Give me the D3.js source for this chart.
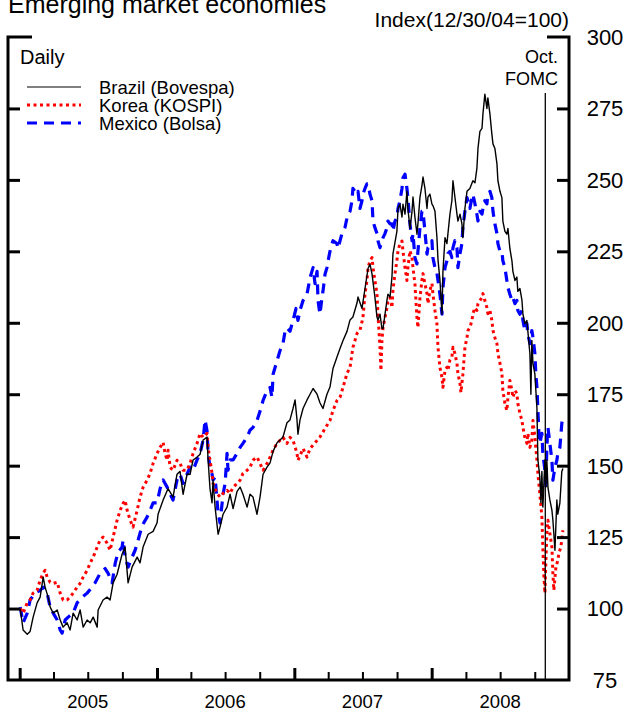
<!DOCTYPE html>
<html>
<head>
<meta charset="utf-8">
<script src="https://cdn.jsdelivr.net/npm/d3@7"></script>
<style>
	body { margin: 0; background: #fff; }
	svg { display: block; font-family: "Liberation Sans", Arial, sans-serif; }
</style>
</head>
<body>
<svg id="chart"></svg>
<script>
// Each point: [years since 1 Jan 2005, index level (12/30/04 = 100)]
const brazil = [[0.004,100],[0.025,92.5],[0.055,91],[0.076,92],[0.098,97],[0.127,102],[0.149,104],[0.171,111],[0.185,107.5],[0.207,104],[0.222,100.5],[0.244,98.4],[0.273,99.5],[0.295,96],[0.316,93.5],[0.345,95],[0.367,92.5],[0.389,98.4],[0.418,96],[0.44,99.5],[0.462,93.5],[0.491,96],[0.513,95],[0.535,97],[0.564,93.5],[0.571,99.5],[0.607,103],[0.636,104],[0.658,103],[0.68,109],[0.709,112],[0.745,119],[0.767,121.5],[0.789,109],[0.818,114.5],[0.855,118],[0.876,116],[0.898,121.5],[0.935,126],[0.971,127],[1.0,130],[1.007,133],[1.044,138],[1.08,142],[1.116,139],[1.145,147],[1.167,148],[1.189,140],[1.218,147],[1.24,147],[1.262,152],[1.291,153],[1.313,154],[1.335,159],[1.364,160],[1.371,152],[1.385,142],[1.4,137],[1.407,145],[1.422,135.5],[1.444,126],[1.458,128.5],[1.48,133],[1.509,135.5],[1.531,140],[1.553,135],[1.582,141],[1.604,142.5],[1.625,140],[1.655,135.5],[1.676,140],[1.698,139],[1.727,133],[1.749,139],[1.771,147],[1.8,149.5],[1.822,151],[1.844,155],[1.873,158],[1.895,159],[1.916,160],[1.945,165],[1.967,166],[1.989,170],[2.004,173],[2.018,166],[2.025,161],[2.04,166],[2.062,170],[2.091,173],[2.113,175],[2.135,177],[2.164,175],[2.185,172],[2.207,170],[2.236,175],[2.258,177.5],[2.28,184],[2.309,188],[2.331,191],[2.353,193.8],[2.382,197],[2.404,201],[2.425,202],[2.455,207],[2.462,209],[2.491,205],[2.513,212],[2.535,219],[2.549,220.5],[2.564,217],[2.585,209],[2.6,202],[2.607,201],[2.622,203],[2.636,198],[2.644,198],[2.673,208],[2.68,210],[2.695,209],[2.709,216],[2.716,224],[2.745,232],[2.753,240],[2.767,241.5],[2.782,237],[2.789,241.5],[2.804,238],[2.818,246],[2.825,240],[2.84,233],[2.855,239],[2.862,244],[2.876,237],[2.891,231],[2.898,234.7],[2.913,244],[2.927,248],[2.935,251],[2.949,247],[2.964,240],[2.971,244],[2.985,245],[3.0,241.5],[3.007,241],[3.022,239],[3.036,230],[3.044,222],[3.058,215],[3.073,203],[3.08,218],[3.095,229.8],[3.109,227.7],[3.116,231],[3.131,238],[3.145,242.7],[3.153,249.7],[3.167,244],[3.182,238],[3.189,235.6],[3.204,238],[3.218,234.7],[3.225,229.8],[3.24,240],[3.255,246],[3.276,247],[3.298,249.7],[3.313,249],[3.327,254],[3.335,261],[3.349,267],[3.364,268],[3.371,273],[3.385,280],[3.4,275],[3.407,278.7],[3.422,273],[3.436,266],[3.444,262.6],[3.458,261],[3.473,255.6],[3.48,249.7],[3.495,246],[3.509,243.8],[3.516,235.6],[3.531,232],[3.545,231],[3.553,233],[3.567,226],[3.582,221.7],[3.589,218],[3.604,214.8],[3.618,216],[3.625,211],[3.64,212],[3.655,207.8],[3.662,203],[3.676,199.7],[3.691,200.8],[3.698,197],[3.713,189],[3.72,175],[3.727,193.8],[3.735,185.8],[3.749,182],[3.764,170],[3.771,152],[3.785,146],[3.793,137],[3.8,148],[3.807,135.5],[3.822,152],[3.829,142.5],[3.836,152],[3.844,142.5],[3.858,138],[3.873,134.4],[3.88,131],[3.895,120.4],[3.909,138],[3.916,133],[3.931,137],[3.945,148],[3.953,149]];

const korea = [[0.004,100],[0.025,98.4],[0.055,102],[0.076,103],[0.098,105.4],[0.127,106.4],[0.149,110],[0.171,112.4],[0.185,113.4],[0.2,111],[0.222,109.2],[0.244,108.8],[0.273,109.2],[0.295,105.4],[0.316,103],[0.345,103],[0.367,104],[0.389,105.4],[0.418,107.5],[0.44,108.8],[0.462,111],[0.491,113.4],[0.513,115.9],[0.535,118],[0.564,121.5],[0.585,124],[0.607,125],[0.636,122.9],[0.658,120.4],[0.68,125],[0.709,130.9],[0.731,134.4],[0.753,136.8],[0.767,137.9],[0.782,134.4],[0.804,130.9],[0.825,128.5],[0.855,134.4],[0.876,139],[0.898,142.4],[0.927,144.9],[0.949,147.3],[0.971,150.8],[1.0,154.3],[1.022,156.4],[1.044,158.2],[1.058,154.3],[1.073,151.9],[1.08,155.4],[1.095,149.4],[1.116,148.4],[1.145,151.9],[1.167,150.8],[1.189,148.4],[1.218,148.4],[1.24,150.8],[1.262,154.3],[1.291,157.8],[1.313,161.3],[1.335,159.9],[1.364,161.3],[1.371,156.4],[1.385,151.9],[1.4,147.3],[1.407,143.8],[1.436,140.3],[1.458,139],[1.48,140.3],[1.509,141.4],[1.531,140.3],[1.553,142.4],[1.582,143.8],[1.604,144.9],[1.625,147.3],[1.655,148.4],[1.676,149.4],[1.698,151.9],[1.727,153],[1.749,150.8],[1.771,148.4],[1.8,150.8],[1.822,153],[1.844,155.4],[1.873,157.8],[1.895,158.9],[1.916,159.9],[1.945,157.8],[1.967,159.9],[1.989,158.9],[2.018,154.3],[2.025,151.9],[2.062,156],[2.091,153],[2.113,156],[2.149,158],[2.185,160],[2.222,163],[2.258,165.8],[2.28,169.3],[2.309,172.8],[2.331,173.9],[2.353,177.4],[2.382,182.3],[2.404,184.4],[2.425,191.4],[2.455,196.3],[2.476,197.3],[2.498,201.8],[2.513,210.2],[2.527,214.8],[2.535,219.3],[2.549,221.7],[2.564,222.8],[2.571,219.3],[2.585,214.8],[2.6,210.2],[2.607,203.2],[2.622,191.4],[2.629,183.3],[2.636,193.8],[2.644,198.3],[2.658,201.8],[2.673,205.3],[2.68,207.8],[2.695,208.8],[2.709,205.3],[2.716,211.3],[2.731,217.2],[2.745,221.7],[2.753,225.2],[2.767,227.7],[2.782,228.6],[2.789,225.2],[2.804,219.3],[2.818,214.8],[2.825,219.3],[2.84,225.2],[2.855,222.8],[2.862,219.3],[2.876,213.7],[2.891,201.8],[2.898,198.3],[2.913,208.8],[2.927,214.8],[2.935,217.2],[2.949,213.7],[2.964,210.2],[2.971,206.7],[2.985,211.3],[3.0,213.7],[3.007,210.2],[3.022,204.3],[3.036,199.7],[3.044,191.4],[3.058,184.4],[3.073,180.9],[3.08,177.4],[3.095,183.3],[3.109,184.4],[3.116,183.3],[3.131,187],[3.145,188],[3.153,191.4],[3.167,189.3],[3.182,185.8],[3.189,182.3],[3.204,178.8],[3.211,175.6],[3.225,182],[3.24,191.4],[3.255,194.8],[3.262,197.3],[3.276,198.3],[3.291,200.8],[3.298,203.2],[3.313,205.3],[3.327,204.3],[3.335,206.7],[3.349,207.8],[3.364,208.8],[3.371,210.2],[3.385,207.8],[3.4,205.3],[3.407,203.2],[3.422,204.3],[3.436,200.8],[3.444,197.3],[3.458,194.8],[3.473,192.7],[3.48,189.3],[3.495,185.8],[3.509,182.3],[3.516,176.3],[3.531,171.8],[3.545,169.3],[3.553,173.9],[3.567,179.8],[3.582,176.3],[3.589,173.9],[3.604,176.3],[3.618,175.3],[3.625,171.8],[3.64,168.3],[3.655,165.8],[3.662,163.4],[3.676,159.9],[3.691,157.8],[3.698,161.3],[3.713,156.4],[3.727,158.9],[3.735,165.8],[3.749,159.9],[3.764,151.9],[3.771,147.3],[3.785,140.3],[3.8,132],[3.807,121.5],[3.815,111],[3.822,105.4],[3.829,116.9],[3.836,126.3],[3.844,130.9],[3.858,126.3],[3.873,121.5],[3.88,112.4],[3.887,106.4],[3.902,114.5],[3.916,116.9],[3.924,119.4],[3.938,121.5],[3.953,127.4]];

const mexico = [[0.004,100.5],[0.025,95],[0.055,98.4],[0.076,103],[0.113,105.4],[0.149,106.4],[0.171,107.5],[0.2,105.4],[0.222,100.5],[0.244,98.4],[0.273,96],[0.295,92.5],[0.309,91.4],[0.331,96],[0.353,97],[0.389,98.4],[0.418,102],[0.455,104],[0.491,105.4],[0.527,107.5],[0.549,109],[0.585,112.3],[0.622,114],[0.644,112.3],[0.673,109],[0.695,115.8],[0.716,119.7],[0.745,121.5],[0.753,124],[0.767,118],[0.789,114.5],[0.818,118],[0.84,120.4],[0.862,124],[0.891,129],[0.927,132],[0.949,134.4],[0.971,137],[1.0,137],[1.022,142],[1.044,145],[1.073,142.5],[1.095,140],[1.116,138],[1.145,145],[1.167,147],[1.189,143.8],[1.218,147],[1.24,149.5],[1.262,148.4],[1.291,152],[1.313,154.3],[1.335,159],[1.349,166],[1.364,162],[1.371,154.3],[1.385,149.5],[1.4,147],[1.407,145],[1.422,146],[1.436,138],[1.444,133.3],[1.458,130],[1.473,136.8],[1.48,140],[1.495,143.8],[1.509,154.3],[1.516,148.4],[1.531,152],[1.553,152],[1.582,154.3],[1.604,156.4],[1.625,157.8],[1.655,160],[1.676,162.4],[1.698,163.4],[1.727,165.8],[1.749,169],[1.771,172.8],[1.8,176.3],[1.822,177.4],[1.836,173.9],[1.844,182],[1.873,186.8],[1.895,190.3],[1.916,192.7],[1.931,197],[1.945,198.3],[1.967,197],[1.989,200.8],[2.011,205],[2.025,200.8],[2.04,204.3],[2.062,207.8],[2.091,210],[2.113,215.8],[2.135,219.3],[2.149,213.7],[2.164,218],[2.171,207.8],[2.185,203],[2.2,208.8],[2.207,211],[2.222,217],[2.236,219.3],[2.244,221.6],[2.258,225],[2.273,227.7],[2.28,228.7],[2.309,227.7],[2.316,226],[2.331,228.7],[2.345,231.2],[2.353,232],[2.367,233.3],[2.382,236.7],[2.389,238],[2.404,239],[2.418,242.7],[2.425,247],[2.44,246],[2.455,245],[2.462,246],[2.476,240],[2.491,242.7],[2.498,245],[2.513,247],[2.527,248.6],[2.535,248.6],[2.549,245],[2.564,242.7],[2.571,235.6],[2.585,233.3],[2.6,231.2],[2.607,228.7],[2.622,226.3],[2.636,228.7],[2.644,229.8],[2.658,231.2],[2.673,233.3],[2.68,235.6],[2.695,234.6],[2.709,234.6],[2.716,232],[2.731,235.6],[2.745,236.7],[2.753,240],[2.767,242.7],[2.782,247],[2.789,250.7],[2.804,252],[2.818,247],[2.825,243.8],[2.84,234.6],[2.855,228.7],[2.862,231.2],[2.876,222.8],[2.891,220.6],[2.898,225],[2.913,233.3],[2.927,239],[2.935,239],[2.949,232],[2.964,224],[2.971,226.3],[2.985,227],[3.0,228.7],[3.007,222.8],[3.022,219.3],[3.036,217.5],[3.044,214.8],[3.058,210],[3.073,203],[3.08,212.3],[3.095,219.3],[3.109,221.7],[3.116,224.2],[3.131,225],[3.145,222.8],[3.153,226.3],[3.167,228.7],[3.182,226.3],[3.189,219.3],[3.204,224.2],[3.218,227.7],[3.225,233.3],[3.24,239],[3.255,243.8],[3.262,242.7],[3.276,240],[3.291,243.8],[3.298,245],[3.313,241.6],[3.327,238],[3.335,235.6],[3.349,239],[3.364,238],[3.371,240],[3.385,242.7],[3.4,241.6],[3.407,245],[3.422,246],[3.436,243.8],[3.444,239],[3.458,234.6],[3.473,231.2],[3.48,227.7],[3.495,225],[3.509,225],[3.516,221.7],[3.531,219.3],[3.545,214.8],[3.553,212.3],[3.567,210],[3.582,207.8],[3.589,208.8],[3.604,206.7],[3.618,207.8],[3.625,204.3],[3.64,203],[3.655,204.3],[3.662,200.8],[3.676,197.3],[3.691,199.7],[3.698,196],[3.713,192.7],[3.727,197.3],[3.735,194.9],[3.749,189.3],[3.756,182],[3.764,177.4],[3.771,169.3],[3.778,161.3],[3.785,157.8],[3.8,161.3],[3.807,154.3],[3.822,148.4],[3.829,143],[3.836,156.4],[3.844,163.4],[3.858,157.8],[3.873,151.9],[3.88,144.9],[3.895,149.4],[3.909,151.9],[3.916,154.3],[3.931,156.4],[3.945,164.8],[3.953,167]];

const yTicks = [75, 100, 125, 150, 175, 200, 225, 250, 275, 300];
const yearLabels = ['2005', '2006', '2007', '2008'];
const fomcDate = '2008-10-29';

const series = [
	{ name: 'Brazil (Bovespa)', data: brazil, color: '#000', width: 1.4, dash: null },
	{ name: 'Korea (KOSPI)', data: korea, color: '#ff0000', width: 3, dash: '3,3.5' },
	{ name: 'Mexico (Bolsa)', data: mexico, color: '#0000ff', width: 3.2, dash: '10,7' },
];

const config = {
	width: 627,
	height: 712,
	left: 8,
	right: 569,
	top: 37,
	bottom: 680,
};

const dayMs = 864e5;
const base = Date.UTC(2005, 0, 1);
const toDate = (t) => new Date(base + t * 365.25 * dayMs);

const svg = d3
	.select('#chart')
	.attr('width', config.width)
	.attr('height', config.height);

const x = d3
	.scaleUtc()
	.domain([new Date(Date.UTC(2004, 11, 1)), new Date(Date.UTC(2008, 11, 31))])
	.range([config.left, config.right]);

const y = d3
	.scaleLinear()
	.domain([75, 300])
	.range([config.bottom, config.top]);

// Lines
const line = d3
	.line()
	.x((d) => x(toDate(d[0])))
	.y((d) => y(d[1]));

svg.append('g')
	.selectAll('path')
	.data(series.slice().reverse())
	.join('path')
	.attr('d', (d) => line(d.data))
	.attr('fill', 'none')
	.attr('stroke', (d) => d.color)
	.attr('stroke-width', (d) => d.width)
	.attr('stroke-dasharray', (d) => d.dash)
	.attr('stroke-linejoin', 'round');

// FOMC marker
const fx = x(new Date(fomcDate + 'T00:00:00Z'));
svg.append('line')
	.attr('x1', fx)
	.attr('x2', fx)
	.attr('y1', 93)
	.attr('y2', config.bottom)
	.attr('stroke', '#000')
	.attr('stroke-width', 1.3);

svg.append('text')
	.attr('x', 558)
	.attr('y', 63)
	.attr('text-anchor', 'end')
	.style('font-size', '18px')
	.text('Oct.');

svg.append('text')
	.attr('x', 558)
	.attr('y', 85)
	.attr('text-anchor', 'end')
	.style('font-size', '18px')
	.text('FOMC');

// Axes: left, right, bottom
const axisStyle = (g) => {
	g.select('.domain').remove();
	g.selectAll('line').attr('stroke', '#000').attr('stroke-width', 3);
	g.selectAll('text').remove();
};

const innerTicks = yTicks.filter((v) => v > 75 && v < 300);

svg.append('g')
	.attr('transform', `translate(${config.left},0)`)
	.call(d3.axisRight(y).tickValues(innerTicks).tickSize(12))
	.call(axisStyle);

svg.append('g')
	.attr('transform', `translate(${config.right},0)`)
	.call(d3.axisLeft(y).tickValues(innerTicks).tickSize(12))
	.call(axisStyle);

const years = d3.utcYear.range(new Date(Date.UTC(2005, 0, 1)), new Date(Date.UTC(2009, 0, 1)));
const quarters = d3.utcMonth
	.every(3)
	.range(new Date(Date.UTC(2005, 0, 1)), new Date(Date.UTC(2009, 0, 1)))
	.filter((d) => d.getUTCMonth() !== 0);

svg.append('g')
	.attr('transform', `translate(0,${config.bottom})`)
	.call(d3.axisTop(x).tickValues(years).tickSize(12))
	.call(axisStyle);

svg.append('g')
	.attr('transform', `translate(0,${config.bottom})`)
	.call(d3.axisTop(x).tickValues(quarters).tickSize(8))
	.call(axisStyle)
	.selectAll('line')
	.attr('stroke-width', 2);

// frame lines (left, right, bottom) and the longer caps at the top
const frame = svg.append('g').attr('stroke', '#000').attr('stroke-width', 3);
frame.append('path')
	.attr('fill', 'none')
	.attr('d', `M${config.left + 24},${y(300)}H${config.left}V${config.bottom}H${config.right}V${y(300)}H${config.right - 22}`);

// Right tick labels
svg.append('g')
	.selectAll('text')
	.data(yTicks)
	.join('text')
	.attr('x', 605)
	.attr('y', (d) => y(d))
	.attr('dy', '0.36em')
	.attr('text-anchor', 'middle')
	.style('font-size', '22px')
	.text((d) => d);

// Year labels centred on each year
svg.append('g')
	.selectAll('text')
	.data(yearLabels)
	.join('text')
	.attr('x', (d) => x(new Date(Date.UTC(+d, 6, 1))))
	.attr('y', 708)
	.attr('text-anchor', 'middle')
	.style('font-size', '18.5px')
	.text((d) => d);

// Titles
svg.append('text')
	.attr('x', 8)
	.attr('y', 13)
	.style('font-size', '25px')
	.text('Emerging market economies');

svg.append('text')
	.attr('x', 569)
	.attr('y', 27)
	.attr('text-anchor', 'end')
	.style('font-size', '21px')
	.text('Index(12/30/04=100)');

svg.append('text')
	.attr('x', 20)
	.attr('y', 64)
	.style('font-size', '20px')
	.text('Daily');

// Legend
const legend = svg.append('g').attr('transform', 'translate(27,87)');
const legendRow = legend
	.selectAll('g')
	.data(series)
	.join('g')
	.attr('transform', (d, i) => `translate(0,${i * 18})`);

legendRow.append('line')
	.attr('x1', 0)
	.attr('x2', 54)
	.attr('stroke', (d) => d.color)
	.attr('stroke-width', (d) => (d.dash ? 3 : 1.2))
	.attr('stroke-dasharray', (d) => d.dash);

legendRow.append('text')
	.attr('x', 72)
	.attr('y', 6.5)
	.style('font-size', '18.5px')
	.text((d) => d.name);
</script>
</body>
</html>
